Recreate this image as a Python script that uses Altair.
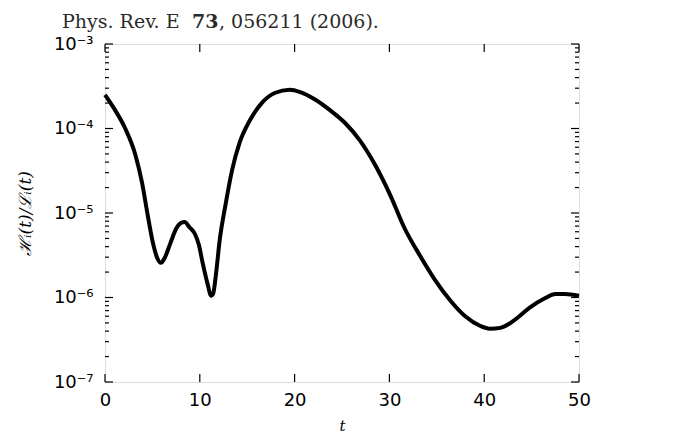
import altair as alt
import pandas as pd

# curve data
t_vals = [0, 1.05, 2.1, 3.2, 3.9, 4.5, 5.1, 5.5, 5.9, 6.3, 6.9, 7.5, 8.0, 8.4, 8.9, 9.5, 9.9,
          10.3, 10.8, 11.2, 11.4, 11.7, 12.1, 12.7, 13.4, 14.2, 15.3, 16.6, 17.9, 19.5, 20.6,
          22.2, 23.7, 25.3, 26.9, 28.5, 30.1, 31.6, 33.2, 34.8, 36.4, 38.0, 39.6, 40.6, 41.7,
          43.2, 44.8, 46.4, 47.5, 48.5, 50]
ratio_vals = [2.5e-4, 1.66e-4, 1.02e-4, 4.9e-5, 2.3e-5, 9.5e-6, 4.2e-6, 2.95e-6, 2.57e-6, 2.95e-6,
              4.4e-6, 6.5e-6, 7.6e-6, 7.8e-6, 6.8e-6, 5.6e-6, 4.2e-6, 2.57e-6, 1.48e-6, 1.05e-6,
              1.1e-6, 1.86e-6, 4.8e-6, 1.23e-5, 3.2e-5, 6.8e-5, 1.26e-4, 2.04e-4, 2.63e-4, 2.88e-4,
              2.7e-4, 2.19e-4, 1.66e-4, 1.17e-4, 7.2e-5, 3.7e-5, 1.62e-5, 6.6e-6, 3.16e-6, 1.62e-6,
              9.3e-7, 6.0e-7, 4.6e-7, 4.27e-7, 4.37e-7, 5.4e-7, 7.6e-7, 9.8e-7, 1.1e-6, 1.1e-6, 1.05e-6]

x_ticks = [0, 10, 20, 30, 40, 50]
y_major = [1e-7, 1e-6, 1e-5, 1e-4, 1e-3]
y_minor = [k * 10.0 ** e for e in (-7, -6, -5, -4) for k in range(2, 10)]

W, H = 474, 338

df = pd.DataFrame({"t": t_vals, "r": ratio_vals})
xs = alt.Scale(domain=[0, 50], nice=False)
ys = alt.Scale(type="log", domain=[1e-7, 1e-3], nice=False)

label_expr = ("round(log(datum.value)/LN10) == -3 ? '10⁻³' : "
              "round(log(datum.value)/LN10) == -4 ? '10⁻⁴' : "
              "round(log(datum.value)/LN10) == -5 ? '10⁻⁵' : "
              "round(log(datum.value)/LN10) == -6 ? '10⁻⁶' : '10⁻⁷'")

x_axis = alt.Axis(
    values=x_ticks, ticks=False, domain=False, grid=False, title="t", labelFlush=False,
    labelFont="DejaVu Sans", labelFontSize=18, labelColor="black", labelPadding=9,
    titleFont="DejaVu Serif", titleFontStyle="italic", titleFontWeight="normal",
    titleFontSize=15, titleColor="black", titlePadding=9)
y_axis = alt.Axis(
    values=y_major, ticks=False, domain=False, grid=False, labelExpr=label_expr,
    labelFlush=False, title="ℋᵢ(t)/ℒᵢ(t)", labelFont="DejaVu Sans", labelFontSize=18,
    labelColor="black", labelPadding=12, titleFont="DejaVu Serif", titleFontStyle="italic",
    titleFontWeight="normal", titleFontSize=17, titleColor="black",
    titleX=-80, titleY=H / 2, titleAngle=270, titleAlign="center", titleBaseline="middle")

line = alt.Chart(df).mark_line(color="black", strokeWidth=4, interpolate="monotone").encode(
    x=alt.X("t:Q", scale=xs, axis=x_axis, title="t"),
    y=alt.Y("r:Q", scale=ys, axis=y_axis, title="ℋᵢ(t)/ℒᵢ(t)"),
)

ymaj_df = pd.DataFrame({"r": y_major})
ymin_df = pd.DataFrame({"r": y_minor})
xt_df = pd.DataFrame({"t": x_ticks})


def yticks(d, x0, x1):
    return alt.Chart(d).mark_rule(color="black", strokeWidth=1.2).encode(
        y=alt.Y("r:Q", scale=ys, axis=y_axis, title="ℋᵢ(t)/ℒᵢ(t)"),
        x=alt.value(x0), x2=alt.value(x1))


def xticks(y0, y1):
    return alt.Chart(xt_df).mark_rule(color="black", strokeWidth=1.2).encode(
        x=alt.X("t:Q", scale=xs, axis=x_axis, title="t"),
        y=alt.value(y0), y2=alt.value(y1))


ticks = [
    yticks(ymaj_df, 0, 8), yticks(ymaj_df, W - 8, W),
    yticks(ymin_df, 0, 4), yticks(ymin_df, W - 4, W),
    xticks(H - 8, H), xticks(0, 8),
]

title_base = -16
one = pd.DataFrame({"a": [0]})
t1 = alt.Chart(one).mark_text(
    text="Phys. Rev. E", font="DejaVu Serif", fontSize=19, align="left", baseline="alphabetic",
    color="#2a2a2a").encode(x=alt.value(62 - 105), y=alt.value(title_base))
t2 = alt.Chart(one).mark_text(
    text="73", font="DejaVu Serif", fontSize=19, fontWeight="bold", align="left",
    baseline="alphabetic", color="#2a2a2a").encode(x=alt.value(192 - 105), y=alt.value(title_base))
t3 = alt.Chart(one).mark_text(
    text=", 056211 (2006).", font="DejaVu Serif", fontSize=19, align="left",
    baseline="alphabetic", color="#2a2a2a").encode(x=alt.value(219 - 105), y=alt.value(title_base))

chart = alt.layer(line, *ticks, t1, t2, t3).properties(
    width=W, height=H,
    autosize=alt.AutoSizeParams(type="none"),
    padding={"left": 97, "top": 36, "right": 91, "bottom": 53},
).configure_view(stroke="black", strokeWidth=2).configure(background="white")

chart.save("out.html", embed_options={"renderer": "svg", "actions": False})
